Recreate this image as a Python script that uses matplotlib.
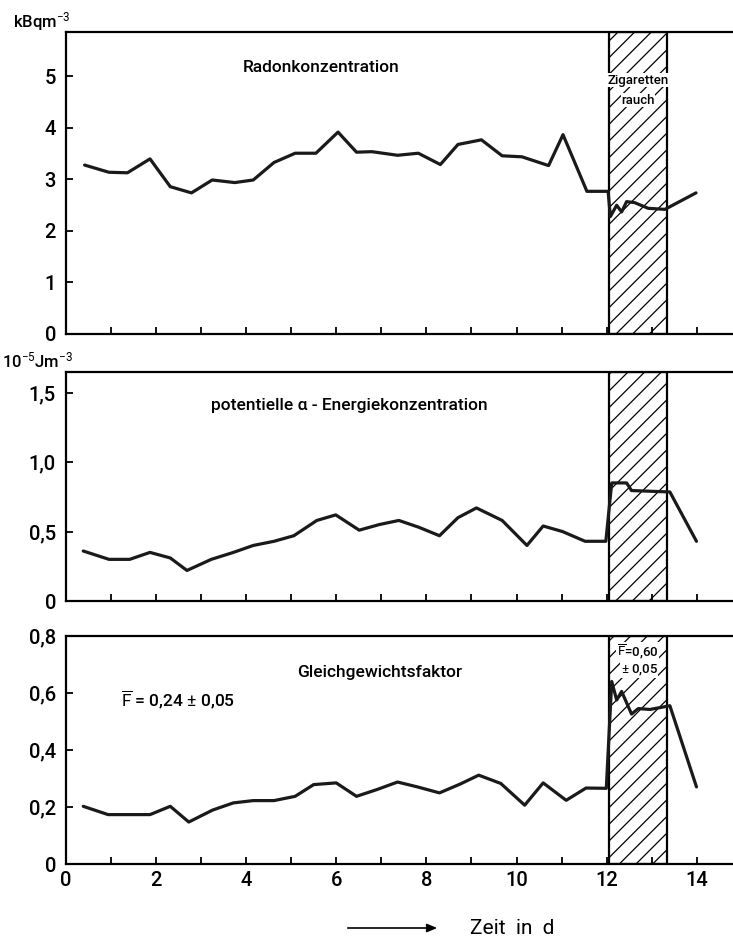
import matplotlib
matplotlib.use("Agg")
import matplotlib.pyplot as plt
from matplotlib.ticker import FixedLocator, FixedFormatter

FONT = 'Roboto'
plt.rcParams['font.family'] = [FONT, 'DejaVu Sans']
plt.rcParams['mathtext.fontset'] = 'custom'
plt.rcParams['mathtext.rm'] = FONT
plt.rcParams['mathtext.it'] = FONT
plt.rcParams['mathtext.bf'] = FONT + ':bold'
plt.rcParams['hatch.linewidth'] = 0.9

# ---------------- data ----------------
x_radon = [0.42, 0.96, 1.37, 1.87, 2.32, 2.79, 3.25, 3.75, 4.16, 4.62, 5.09, 5.55,
           6.04, 6.45, 6.79, 7.36, 7.82, 8.31, 8.70, 9.22, 9.68, 10.12, 10.71, 11.03,
           11.56, 12.03, 12.08, 12.22, 12.33, 12.44, 12.62, 12.92, 13.29, 13.98]
radon = [3.28, 3.14, 3.13, 3.40, 2.86, 2.74, 2.99, 2.94, 2.99, 3.33, 3.51, 3.51,
         3.92, 3.53, 3.54, 3.47, 3.51, 3.29, 3.68, 3.77, 3.46, 3.44, 3.27, 3.87,
         2.77, 2.77, 2.28, 2.50, 2.37, 2.57, 2.55, 2.44, 2.42, 2.74]

x_pot = [0.39, 0.96, 1.42, 1.87, 2.32, 2.69, 3.23, 3.72, 4.16, 4.62, 5.06, 5.57,
         5.99, 6.51, 6.95, 7.39, 7.84, 8.29, 8.70, 9.11, 9.68, 10.23, 10.59, 11.02,
         11.52, 11.98, 12.11, 12.44, 12.55, 12.98, 13.40, 13.99]
pot = [0.36, 0.30, 0.30, 0.35, 0.31, 0.22, 0.30, 0.35, 0.40, 0.43, 0.47, 0.58,
       0.62, 0.51, 0.55, 0.58, 0.53, 0.47, 0.60, 0.67, 0.58, 0.40, 0.54, 0.50,
       0.43, 0.43, 0.85, 0.85, 0.795, 0.79, 0.785, 0.43]

x_F = [0.39, 0.94, 1.42, 1.87, 2.32, 2.73, 3.26, 3.72, 4.16, 4.62, 5.09, 5.50,
       6.00, 6.45, 6.91, 7.36, 7.80, 8.29, 8.75, 9.16, 9.65, 10.18, 10.59, 11.10,
       11.54, 11.99, 12.11, 12.22, 12.33, 12.55, 12.70, 12.96, 13.40, 13.99]
F = [0.203, 0.174, 0.174, 0.174, 0.203, 0.148, 0.19, 0.215, 0.223, 0.223, 0.238, 0.279,
     0.285, 0.238, 0.262, 0.288, 0.271, 0.25, 0.281, 0.312, 0.283, 0.207, 0.285, 0.224,
     0.267, 0.266, 0.64, 0.575, 0.605, 0.526, 0.545, 0.542, 0.555, 0.271]

smoke_span = (12.06, 13.33)
x_ticks = list(range(0, 15))
x_labels = [str(t) if t % 2 == 0 else '' for t in x_ticks]

radon_ticks = [0, 1, 2, 3, 4, 5]
radon_labels = ['0', '1', '2', '3', '4', '5']
pot_ticks = [0, 0.5, 1.0, 1.5]
pot_labels = ['0', '0,5', '1,0', '1,5']
F_ticks = [0, 0.2, 0.4, 0.6, 0.8]
F_labels = ['0', '0,2', '0,4', '0,6', '0,8']

# ---------------- figure ----------------
fig = plt.figure(figsize=(7.33, 9.40), dpi=100)
left = 0.0896
width = 1.0 - left
ax1 = fig.add_axes([left, 0.6447, width, 0.3216])
ax2 = fig.add_axes([left, 0.3606, width, 0.2439])
ax3 = fig.add_axes([left, 0.0805, width, 0.2432])

line_kw = dict(color='#1a1a1a', lw=2.3, solid_joinstyle='round', solid_capstyle='round', zorder=8)

def style(ax, ylim, yt, yl, show_x):
    ax.set_xlim(0, 14.8)
    ax.set_ylim(*ylim)
    for s in ['left', 'bottom', 'top']:
        ax.spines[s].set_linewidth(1.6)
    ax.spines['right'].set_visible(False)
    ax.xaxis.set_major_locator(FixedLocator(x_ticks))
    if show_x:
        ax.xaxis.set_major_formatter(FixedFormatter(x_labels))
    else:
        ax.set_xticklabels([])
    ax.yaxis.set_major_locator(FixedLocator(yt))
    ax.yaxis.set_major_formatter(FixedFormatter(yl))
    ax.tick_params(axis='both', direction='in', length=5, width=1.3, labelsize=14.5,
                   top=False, right=False)
    for lab in ax.get_xticklabels() + ax.get_yticklabels():
        lab.set_fontweight('medium')
    ax.tick_params(axis='y', pad=7)
    ax.tick_params(axis='x', pad=5)
    ax.axvspan(smoke_span[0], smoke_span[1], facecolor='none', edgecolor='black',
               hatch='//', lw=1.6, zorder=6)

style(ax1, (0, 5.87), radon_ticks, radon_labels, False)
style(ax2, (0, 1.65), pot_ticks, pot_labels, False)
style(ax3, (0, 0.8), F_ticks, F_labels, True)

ax1.plot(x_radon, radon, **line_kw)
ax2.plot(x_pot, pot, **line_kw)
ax3.plot(x_F, F, **line_kw)

# texts
tk = dict(fontsize=12.5, fontweight='medium')
ax1.text(5.67, 5.17, 'Radonkonzentration', ha='center', va='center', **tk)
ax2.text(6.30, 1.41, 'potentielle \u03b1 - Energiekonzentration', ha='center', va='center', **tk)
ax3.text(6.97, 0.673, 'Gleichgewichtsfaktor', ha='center', va='center', **tk)
ax3.text(1.22, 0.577, r'$\overline{\mathrm{F}}$ = 0,24 $\pm$ 0,05', ha='left', va='center', **tk)

wb = dict(facecolor='white', edgecolor='none', pad=0.3)
sk = dict(fontsize=9.5, fontweight='medium', ha='center', va='center', bbox=wb, zorder=7)
ax1.text(12.70, 4.93, 'Zigaretten', **sk)
ax1.text(12.70, 4.54, 'rauch', **sk)
ax3.text(12.68, 0.743, r'$\overline{\mathrm{F}}$=0,60', **sk)
ax3.text(12.72, 0.679, r'$\pm$ 0,05', **sk)

# unit labels
fig.text(42 / 733, 1 - 22 / 940, r'kBqm$^{-3}$', ha='center', va='center', fontsize=12,
         fontweight='medium')
fig.text(38 / 733, 1 - 360 / 940, r'10$^{-5}$Jm$^{-3}$', ha='center', va='center', fontsize=12,
         fontweight='medium')

# x label with arrow
fig.text(470 / 733, 1 - 928 / 940, 'Zeit  in  d', ha='left', va='center', fontsize=15)
fig.add_artist(matplotlib.patches.FancyArrowPatch(
    (345 / 733, 1 - 928 / 940), (440 / 733, 1 - 928 / 940), transform=fig.transFigure,
    arrowstyle='-|>,head_length=6,head_width=2.5', color='black', lw=1.2))

fig.savefig('out.png', dpi=100)
